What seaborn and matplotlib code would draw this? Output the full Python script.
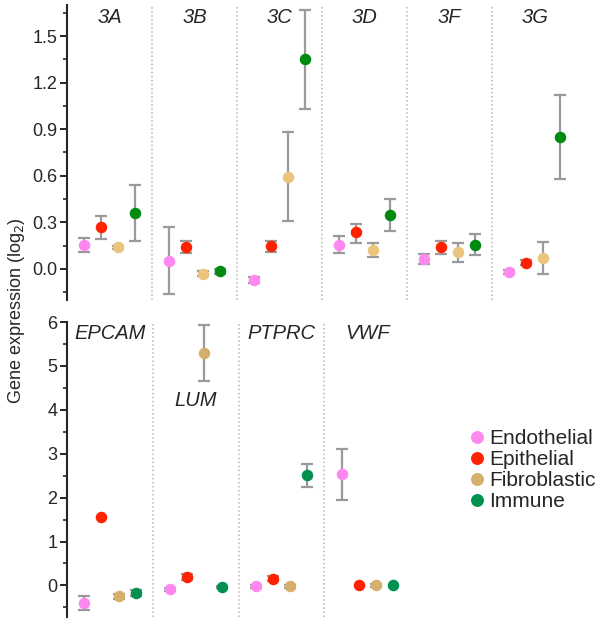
import numpy as np
import pandas as pd
import matplotlib.pyplot as plt
import seaborn as sns
from matplotlib.ticker import MultipleLocator
from matplotlib.lines import Line2D

sns.set_style('ticks')
plt.rcParams['font.family'] = ['Liberation Sans', 'DejaVu Sans']

cells = ['Endothelial', 'Epithelial', 'Fibroblastic', 'Immune']
top_colors = ['#ff88f0', '#ff2200', '#ebc47e', '#008a10']
bot_colors = ['#ff88f0', '#ff2200', '#d6af6c', '#00904f']

# upper panel (rows = cell types, columns = genes)
top_genes = ['3A', '3B', '3C', '3D', '3F', '3G']
top_mean = [[0.155, 0.05, -0.07, 0.155, 0.065, -0.02],
            [0.27, 0.14, 0.145, 0.235, 0.14, 0.04],
            [0.14, -0.03, 0.59, 0.12, 0.11, 0.07],
            [0.36, -0.015, 1.35, 0.345, 0.155, 0.85]]
top_low = [[0.11, -0.16, -0.09, 0.10, 0.03, -0.03],
           [0.19, 0.10, 0.11, 0.17, 0.095, 0.025],
           [0.13, -0.045, 0.31, 0.075, 0.045, -0.035],
           [0.18, -0.03, 1.03, 0.245, 0.09, 0.58]]
top_high = [[0.20, 0.27, -0.05, 0.21, 0.095, -0.01],
            [0.34, 0.18, 0.18, 0.29, 0.18, 0.055],
            [0.15, -0.015, 0.88, 0.17, 0.17, 0.175],
            [0.54, 0.0, 1.665, 0.45, 0.225, 1.12]]

# lower panel
bot_genes = ['EPCAM', 'LUM', 'PTPRC', 'VWF']
bot_mean = [[-0.39, -0.09, -0.02, 2.54],
            [1.57, 0.2, 0.15, 0.0],
            [-0.25, 5.29, -0.02, 0.0],
            [-0.18, -0.04, 2.52, 0.0]]
bot_low = [[-0.55, -0.12, -0.05, 1.95],
           [1.57, 0.13, 0.09, 0.0],
           [-0.31, 4.66, -0.05, -0.03],
           [-0.25, -0.07, 2.25, 0.0]]
bot_high = [[-0.25, -0.06, 0.01, 3.10],
            [1.57, 0.27, 0.21, 0.0],
            [-0.19, 5.93, 0.01, 0.03],
            [-0.11, -0.01, 2.77, 0.0]]


def to_frame(genes, mean, low, high):
    rows = []
    for c, cell in enumerate(cells):
        for g, gene in enumerate(genes):
            rows.append({'gene': gene, 'cell': cell, 'mean': mean[c][g],
                         'low': low[c][g], 'high': high[c][g]})
    return pd.DataFrame(rows)


def draw_panel(ax, genes, df, palette, ylim, major, minor, label_y):
    offsets = np.linspace(-0.3, 0.3, len(cells))
    for c, cell in enumerate(cells):
        sub = df[(df['cell'] == cell) & (df['high'] > df['low'])]
        x = sub['gene'].map({g: i for i, g in enumerate(genes)}) + offsets[c]
        ax.errorbar(x, sub['mean'], yerr=[sub['mean'] - sub['low'], sub['high'] - sub['mean']],
                    fmt='none', ecolor='#9a9a9a', elinewidth=1.6, capsize=4, capthick=1.6, zorder=2)
    sns.stripplot(data=df, x='gene', y='mean', hue='cell', order=genes, hue_order=cells,
                  palette=palette, dodge=True, jitter=False, size=8.3, linewidth=0,
                  legend=False, ax=ax, zorder=3)
    for i in range(len(genes) - 1):
        ax.axvline(i + 0.5, color='#b5b5b5', ls=':', lw=1.1, zorder=1)
    for i, gene in enumerate(genes):
        ax.text(i, label_y[i], gene, transform=ax.get_xaxis_transform(), ha='center', va='top',
                fontsize=14.5, style='italic')
    ax.set_xlim(-0.5, len(genes) - 0.5)
    ax.set_ylim(*ylim)
    ax.yaxis.set_major_locator(MultipleLocator(major))
    ax.yaxis.set_minor_locator(MultipleLocator(minor))
    ax.set_xticks([])
    ax.set_xlabel('')
    ax.set_ylabel('')
    for s in ['top', 'right', 'bottom']:
        ax.spines[s].set_visible(False)
    ax.spines['left'].set_linewidth(1.5)
    ax.tick_params(axis='y', which='major', length=5, width=1.4, labelsize=13, pad=2)
    ax.tick_params(axis='y', which='minor', length=3, width=1.2)


fig = plt.figure(figsize=(6, 6.21), dpi=100)
ax_top = fig.add_axes([0.112, 0.517, 0.85, 0.475])
ax_bot = fig.add_axes([0.112, 0.0064, 0.5715, 0.475])

top_df = to_frame(top_genes, top_mean, top_low, top_high)
bot_df = to_frame(bot_genes, bot_mean, bot_low, bot_high)

draw_panel(ax_top, top_genes, top_df, top_colors, (-0.2, 1.7), 0.3, 0.15, [0.99] * 6)
ax_top.yaxis.set_major_formatter(plt.FuncFormatter(lambda v, p: f'{v:.1f}'))
draw_panel(ax_bot, bot_genes, bot_df, bot_colors, (-0.72, 6.0), 1, 0.5, [0.995, 0.765, 0.995, 0.995])

fig.text(0.028, 0.5, 'Gene expression (log$_2$)', rotation=90, ha='center', va='center', fontsize=13)

handles = [Line2D([], [], marker='o', ls='none', color=col, markersize=8.3) for col in bot_colors]
fig.legend(handles, cells, loc='center left', bbox_to_anchor=(0.76, 0.243), frameon=False,
           fontsize=15, handletextpad=0.1, labelspacing=0.1, handlelength=1.0, borderpad=0)

fig.savefig('out.png', dpi=100)
